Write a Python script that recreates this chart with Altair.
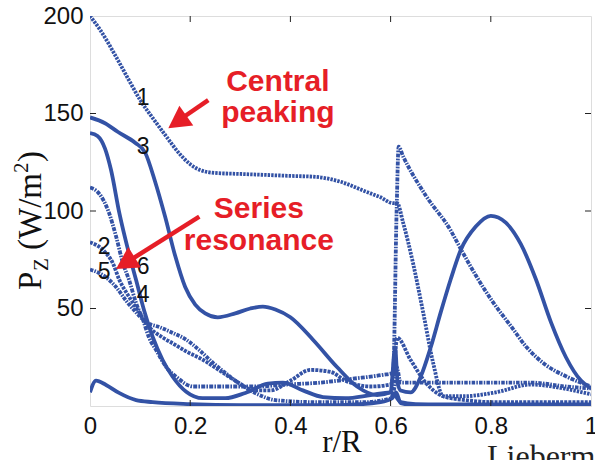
import altair as alt
import pandas as pd

# ---------------- data ----------------
c1_x = [0, 0.02, 0.05, 0.08, 0.1, 0.13, 0.15, 0.18, 0.2, 0.22, 0.25, 0.3, 0.35, 0.4, 0.45, 0.5, 0.55, 0.58, 0.605, 0.613, 0.625, 0.645, 0.665, 0.685, 0.705, 0.745, 0.81, 0.88, 0.945, 1.0]
c1_y = [200, 193, 180, 166, 157, 146, 139, 129, 124, 121, 119.5, 119, 118.5, 118, 117.5, 115, 110, 107, 104, 104, 94, 73, 48, 22, 5, 5, 7, 11, 9, 6]

c3_x = [0, 0.03, 0.056, 0.09, 0.11, 0.13, 0.15, 0.17, 0.19, 0.21, 0.23, 0.255, 0.29, 0.32, 0.345, 0.37, 0.4, 0.445, 0.493, 0.533, 0.573, 0.6, 0.609, 0.614, 0.62, 0.64, 0.66, 0.68, 0.70, 0.72, 0.74, 0.77, 0.80, 0.83, 0.86, 0.89, 0.92, 0.95, 0.98, 1.0]
c3_y = [148, 145, 140.5, 135, 130, 115, 97, 77, 61, 52, 47.5, 45.5, 47.5, 50, 51, 49.5, 45.5, 34, 20, 10, 5.6, 7, 30, 12, 8, 7, 15, 30, 48, 65, 80, 92, 97.5, 94, 83, 65, 43, 25, 13, 9]

c6_x = [0, 0.015, 0.03, 0.042, 0.0585, 0.078, 0.092, 0.108, 0.125, 0.145, 0.165, 0.192, 0.225, 0.27, 0.31, 0.355, 0.385, 0.425, 0.465, 0.51, 0.56, 0.6, 0.61, 0.62, 0.65, 0.7, 1.0]
c6_y = [140, 138.5, 132, 121, 99, 78, 64.6, 49, 35.5, 23.6, 15, 7.3, 4, 4, 6.7, 11.5, 12, 8, 4.6, 4, 5.6, 7, 5, 2, 1, 0.8, 0.8]

c7_x = [0, 0.012, 0.032, 0.058, 0.092, 0.125, 0.2, 0.3, 0.5, 0.58, 0.603, 0.611, 0.62, 0.65, 1.0]
c7_y = [7, 13, 10.8, 6.7, 3, 2, 1, 0.5, 0.5, 2, 4, 7, 1.5, 0.4, 0.4]

c4_x = [0, 0.018, 0.038, 0.052, 0.066, 0.078, 0.092, 0.106, 0.118, 0.132, 0.152, 0.172, 0.206, 0.24, 0.29, 0.335, 0.39, 0.46, 0.525, 0.585, 0.605, 0.612, 0.616, 0.625, 0.67, 0.72, 0.738, 0.77, 0.805, 0.84, 0.872, 0.91, 0.952, 1.0]
c4_y = [112, 109, 99, 87, 73, 64.6, 52.8, 44, 35, 28.7, 20, 15, 10, 10, 10, 10, 11, 12, 14, 16, 17, 100, 133, 128, 108, 90, 81.5, 67, 53, 41, 30, 21, 15, 10]

c2_x = [0, 0.026, 0.046, 0.058, 0.078, 0.098, 0.118, 0.146, 0.166, 0.192, 0.226, 0.257, 0.29, 0.33, 0.36, 0.4, 0.44, 0.48, 0.51, 0.56, 0.6, 0.607, 0.613, 0.64, 0.67, 0.705, 0.75, 0.8, 1.0]
c2_y = [84, 80, 73, 65, 56, 48, 40.5, 35, 32, 28, 23.6, 18.5, 13, 8, 8, 13, 18.5, 17.5, 13, 10, 11, 20, 35, 23.6, 12, 5, 3, 2, 2]

c5_x = [0, 0.032, 0.052, 0.072, 0.092, 0.112, 0.138, 0.166, 0.192, 0.218, 0.246, 0.27, 0.29, 0.335, 0.37, 0.45, 0.55, 0.6, 0.608, 0.612, 0.62, 0.65, 0.7, 0.8, 0.88, 0.95, 1.0]
c5_y = [70, 66, 61, 54, 48, 43, 40.5, 37.4, 34, 28.7, 22, 17, 13, 6, 3, 2, 2, 4, 10, 20, 12, 12, 12, 12, 12, 10, 9]

label_text = ["1", "3", "2", "5", "6", "4"]
label_x = [0.106, 0.106, 0.028, 0.028, 0.106, 0.106]
label_y = [157.9, 132.8, 81.5, 68.7, 71.3, 56.9]

note_text = ["Central", "peaking", "Series", "resonance"]
note_x = [0.375, 0.375, 0.337, 0.337]
note_y = [161.5, 145.6, 96.4, 80.0]

arrow_x = [0.2361, 0.2182]
arrow_y = [156.9, 97.1]
arrow_x2 = [0.1818, 0.079]
arrow_y2 = [147.3, 74.6]
tip_x = [0.1563, 0.0519]
tip_y = [142.4, 70.3]
tip_angle = [235, 238]

x_ticks = [0, 0.2, 0.4, 0.6, 0.8, 1]
y_ticks = [50, 100, 150, 200]

# ---------------- styling ----------------
BLUE = "#3352A5"
RED = "#E61E27"
SANS = "Liberation Sans"
SERIF = "Liberation Serif"
W, H = 501, 390

XS = alt.Scale(domain=[0, 1], nice=False, zero=False)
YS = alt.Scale(domain=[0, 200], nice=False, zero=False)

XAXIS = alt.Axis(values=x_ticks, format="~g", title=None, grid=False, ticks=False,
                 domain=False, labelFont=SANS, labelFontSize=24, labelColor="#111",
                 labelPadding=8, labelFlush=False, labelOverlap=False, labelBound=False)
YAXIS = alt.Axis(values=y_ticks, title=None, grid=False, ticks=False, domain=False,
                 labelFont=SANS, labelFontSize=24, labelColor="#111", labelPadding=7,
                 labelFlush=False, labelOverlap=False, labelBound=False)


def X(field):
    return alt.X(f"{field}:Q", scale=XS, axis=XAXIS, title=None)


def Y(field):
    return alt.Y(f"{field}:Q", scale=YS, axis=YAXIS, title=None)


curves = [
    (c1_x, c1_y, [2.4, 1.1]),
    (c4_x, c4_y, [4, 1.2, 1.6, 1.2]),
    (c2_x, c2_y, [3, 1.1]),
    (c5_x, c5_y, [3.5, 1.2, 1.5, 1.2]),
    (c3_x, c3_y, None),
    (c6_x, c6_y, None),
    (c7_x, c7_y, None),
]

layers = []
for xs, ys, dash in curves:
    df = pd.DataFrame({"x": xs, "y": ys})
    kw = dict(color=BLUE, strokeWidth=3.8, clip=True, interpolate="monotone", strokeCap="butt")
    if dash is not None:
        kw["strokeDash"] = dash
    layers.append(alt.Chart(df).mark_line(**kw).encode(x=X("x"), y=Y("y")))

# inward ticks on all four sides
xt = pd.DataFrame({"v": x_ticks[1:-1]})
yt = pd.DataFrame({"v": y_ticks[:-1]})
tick_kw = dict(size=6, thickness=1, color="#222", opacity=1)
layers.append(alt.Chart(xt).mark_tick(orient="vertical", **tick_kw).encode(
    x=X("v"), y=alt.value(H - 3)))
layers.append(alt.Chart(xt).mark_tick(orient="vertical", **tick_kw).encode(
    x=X("v"), y=alt.value(3)))
layers.append(alt.Chart(yt).mark_tick(orient="horizontal", **tick_kw).encode(
    y=Y("v"), x=alt.value(3)))
layers.append(alt.Chart(yt).mark_tick(orient="horizontal", **tick_kw).encode(
    y=Y("v"), x=alt.value(W - 3)))

# curve numbers
ldf = pd.DataFrame({"x": label_x, "y": label_y, "t": label_text})
layers.append(alt.Chart(ldf).mark_text(font=SANS, fontSize=23, color="#111",
                                       align="center", baseline="middle").encode(
    x=X("x"), y=Y("y"), text="t:N"))

# red annotations
ndf = pd.DataFrame({"x": note_x, "y": note_y, "t": note_text})
layers.append(alt.Chart(ndf).mark_text(font=SANS, fontSize=30, fontWeight="bold", color=RED,
                                       align="center", baseline="alphabetic").encode(
    x=X("x"), y=Y("y"), text="t:N"))

adf = pd.DataFrame({"x": arrow_x, "y": arrow_y, "x2": arrow_x2, "y2": arrow_y2})
layers.append(alt.Chart(adf).mark_rule(color=RED, strokeWidth=4.5, strokeCap="butt").encode(
    x=X("x"), y=Y("y"), x2="x2:Q", y2="y2:Q"))

tdf = pd.DataFrame({"x": tip_x, "y": tip_y, "a": tip_angle})
layers.append(alt.Chart(tdf).mark_point(shape="M0,0L0.55,1L-0.55,1Z", size=1936, filled=True,
                                        color=RED, opacity=1, strokeWidth=0).encode(
    x=X("x"), y=Y("y"), angle=alt.Angle("a:Q", scale=None)))

# axis titles and cut-off caption (pixel positions relative to the plot area)
one = pd.DataFrame({"k": [0]})


def ptext(txt, px, py, size, font=SERIF, angle=0, align="left", color="#111"):
    return alt.Chart(one).mark_text(text=txt, font=font, fontSize=size, angle=angle,
                                    align=align, baseline="alphabetic", color=color).encode(
        x=alt.value(px), y=alt.value(py))


layers.append(ptext("P", -49, 274, 33, angle=270))
layers.append(ptext("Z", -42, 255, 21, angle=270))
layers.append(ptext("(W/m", -49, 234, 33, angle=270))
layers.append(ptext("2", -62, 157, 21, angle=270))
layers.append(ptext(")", -49, 146, 33, angle=270))
layers.append(ptext("r/R", 252, 436, 31, align="center"))
layers.append(ptext("Lieberm", 397, 451, 32, color="#222"))

chart = alt.layer(*layers).properties(
    width=W, height=H,
    autosize=alt.AutoSizeParams(type="none"),
    padding={"left": 90, "top": 16, "right": 4, "bottom": 54},
).configure_view(stroke="#222", strokeWidth=1.2).configure(background="white")

chart.save("out.html", embed_options={"renderer": "svg", "actions": False})
